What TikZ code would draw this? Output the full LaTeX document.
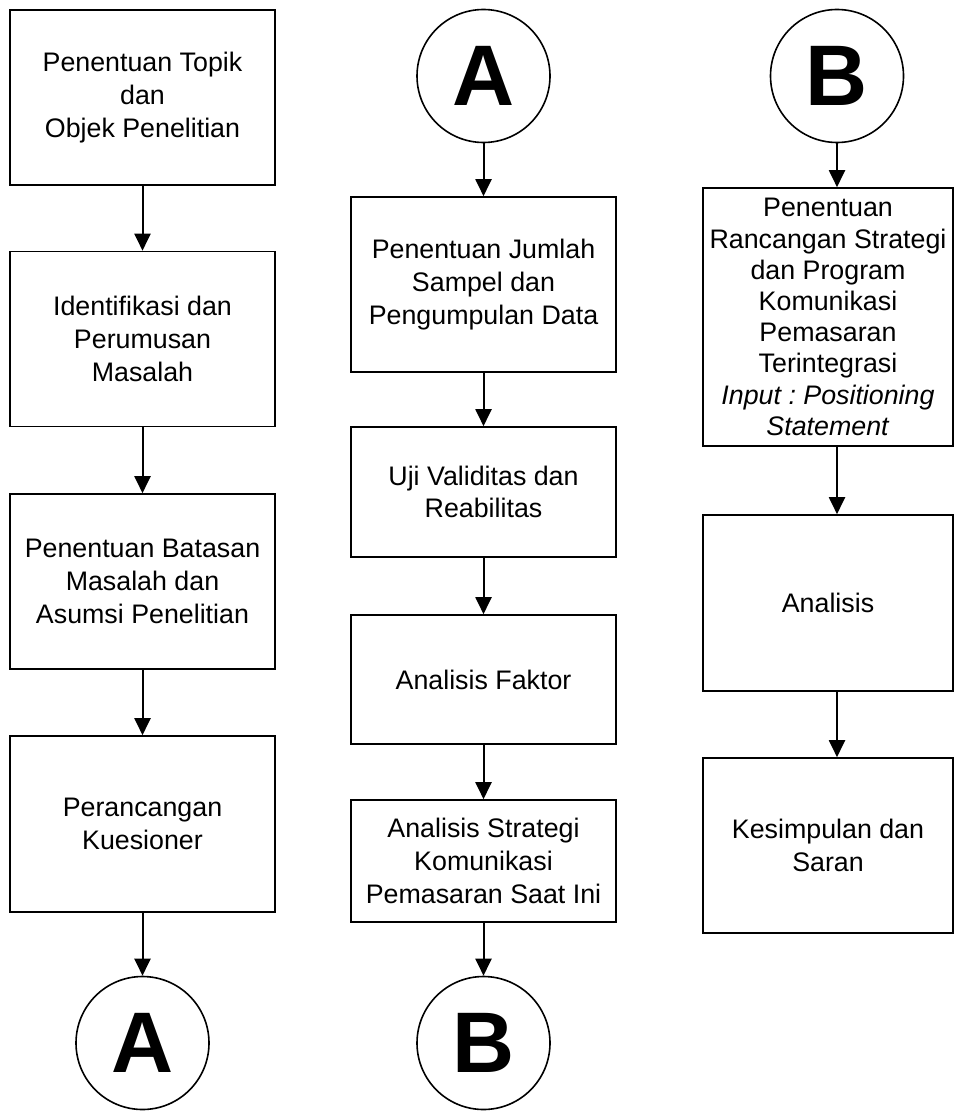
\documentclass[tikz,border=0pt]{standalone}
\usepackage{fontspec}
\setmainfont{Liberation Sans}
\usetikzlibrary{arrows.meta}
\frenchspacing
\newcommand{\pxunit}{0.5pt}
\newcommand{\boxfont}{\fontsize{13.4}{16.3}\selectfont}

\begin{document}
\begin{tikzpicture}[x=\pxunit,y=-\pxunit,
	box/.style={draw, line width=0.8pt, align=center, inner sep=0pt,
		minimum width=132.5pt, font=\boxfont},
	wbox/.style={box, minimum width=125pt},
	conn/.style={circle, draw, line width=0.8pt, inner sep=0pt,
		minimum size=66.5pt, font=\fontsize{43}{43}\selectfont\bfseries},
	flow/.style={-{Triangle[length=8.5pt,width=8pt]}, line width=1pt}]
	\useasboundingbox (0,0) rectangle (955,1113);

	% first column
	\node[box, minimum height=87.5pt] (topik) at (142.5,97.5) {Penentuan Topik\\dan\\Objek Penelitian};
	\node[box, minimum height=87.5pt] (masalah) at (142.5,339) {Identifikasi dan\\Perumusan\\Masalah};
	\node[box, minimum height=87.5pt] (batasan) at (142.5,581.5) {Penentuan Batasan\\Masalah dan\\Asumsi Penelitian};
	\node[box, minimum height=88pt] (kuesioner) at (142.5,824) {Perancangan\\Kuesioner};
	\node[conn] (A1) at (142.5,1043) {A};

	% second column
	\node[conn] (A2) at (483.5,76) {A};
	\node[box, minimum height=87.5pt] (sampel) at (483.5,284.5) {Penentuan Jumlah\\Sampel dan\\Pengumpulan Data};
	\node[box, minimum height=65pt] (uji) at (483.5,492) {Uji Validitas dan\\Reabilitas};
	\node[box, minimum height=64.5pt] (faktor) at (483.5,679.5) {Analisis Faktor};
	\node[box, minimum height=61pt] (kini) at (483.5,861) {Analisis Strategi\\Komunikasi\\Pemasaran Saat Ini};
	\node[conn] (B1) at (483.5,1043) {B};

	% third column
	\node[conn] (B2) at (837,76) {B};
	\node[wbox, minimum height=129pt, font=\fontsize{13.4}{15.6}\selectfont] (rancangan) at (828,317)
		{Penentuan\\Rancangan Strategi\\dan Program\\Komunikasi\\Pemasaran\\Terintegrasi\\
		\textit{Input : Positioning}\\\textit{Statement}};
	\node[wbox, minimum height=88pt] (analisis) at (828,603) {Analisis};
	\node[wbox, minimum height=87.5pt] (saran) at (828,845.5) {Kesimpulan dan\\Saran};

	\draw[flow] (topik) -- (masalah);
	\draw[flow] (masalah) -- (batasan);
	\draw[flow] (batasan) -- (kuesioner);
	\draw[flow] (kuesioner) -- (A1);

	\draw[flow] (A2) -- (sampel);
	\draw[flow] (sampel) -- (uji);
	\draw[flow] (uji) -- (faktor);
	\draw[flow] (faktor) -- (kini);
	\draw[flow] (kini) -- (B1);

	\draw[flow] (B2) -- (B2 |- rancangan.north);
	\draw[flow] (B2 |- rancangan.south) -- (B2 |- analisis.north);
	\draw[flow] (B2 |- analisis.south) -- (B2 |- saran.north);
\end{tikzpicture}
\end{document}
